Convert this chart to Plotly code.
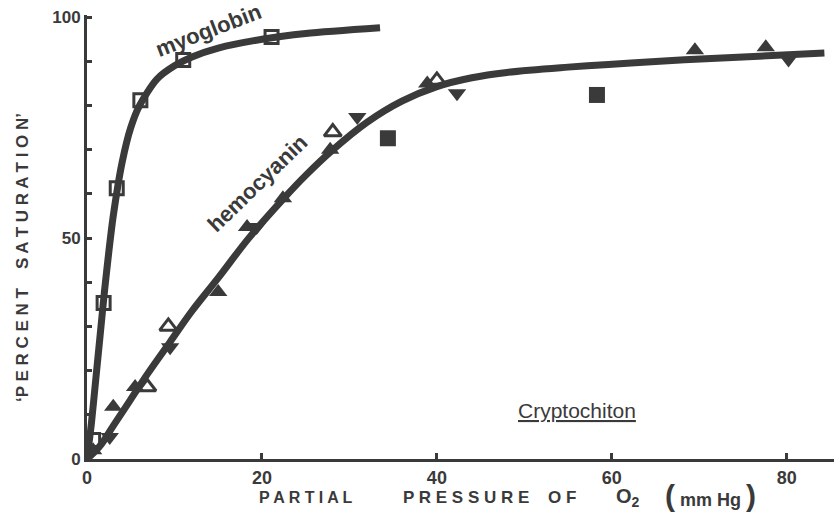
import plotly.graph_objects as go

# ---- data ----
# smooth curves (read points, drawn with spline)
myo_curve_x = [0, 0.5, 1, 1.5, 2, 2.5, 3, 4, 5, 6, 8, 10, 12, 15, 20, 25, 33.5]
myo_curve_y = [0, 8, 18, 28, 38, 47, 55, 67, 75, 80, 86, 89, 91, 93, 95, 96.3, 97.6]

hemo_curve_x = [0, 1.5, 3, 5, 7, 9.5, 12, 15, 18.5, 22.5, 25, 28, 32, 36, 40, 44, 48, 55, 65, 75, 84.3]
hemo_curve_y = [0, 3, 7.5, 13.5, 19.5, 26.5, 33.5, 41, 50, 59, 64.2, 69.8, 76.2, 81, 84.3, 86.3, 87.5, 88.7, 90, 91, 91.9]

# myoglobin: open squares
myo_x = [0.7, 1.9, 3.4, 6.1, 11.0, 21.1]
myo_y = [4.3, 35.3, 61.3, 81.2, 90.3, 95.5]

# hemocyanin: filled up triangles
hup_x = [0.7, 3.0, 5.5, 15.0, 18.3, 22.4, 27.8, 38.9, 69.5, 77.6]
hup_y = [2.0, 11.8, 16.3, 37.8, 52.5, 59.0, 70.0, 85.0, 92.5, 93.2]
# hemocyanin: filled down triangles
hdn_x = [2.6, 9.5, 19.4, 30.9, 42.3, 80.2]
hdn_y = [5.0, 25.3, 52.5, 77.4, 82.8, 90.4]
# hemocyanin: open up triangles
hop_x = [6.9, 9.3, 28.1, 40.0]
hop_y = [16.3, 30.0, 74.0, 85.7]
# filled squares
sq_x = [34.4, 58.3]
sq_y = [72.6, 82.4]

x_ticks = [0, 20, 40, 60, 80]
x_ticktext = ["0", "20", "40", "60", "80"]
y_ticks = [0, 10, 20, 30, 40, 50, 60, 70, 80, 90, 100]
y_ticktext = ["0", "", "", "", "", "50", "", "", "", "", "100"]

INK = "#3a3a3a"
FONT = "Liberation Sans, Arial, sans-serif"

fig = go.Figure()
fig.add_trace(go.Scatter(x=myo_curve_x, y=myo_curve_y, mode="lines",
                         line=dict(color=INK, width=7, shape="spline", smoothing=0.8),
                         hoverinfo="skip"))
fig.add_trace(go.Scatter(x=hemo_curve_x, y=hemo_curve_y, mode="lines",
                         line=dict(color=INK, width=7, shape="spline", smoothing=1.0),
                         hoverinfo="skip"))
fig.add_trace(go.Scatter(x=myo_x, y=myo_y, mode="markers", cliponaxis=False,
                         marker=dict(symbol="square-open", size=13, color=INK,
                                     line=dict(width=3, color=INK))))
fig.add_trace(go.Scatter(x=hup_x, y=hup_y, mode="markers", cliponaxis=False,
                         marker=dict(symbol="triangle-up", size=16, color=INK)))
fig.add_trace(go.Scatter(x=hdn_x, y=hdn_y, mode="markers", cliponaxis=False,
                         marker=dict(symbol="triangle-down", size=16, color=INK)))
fig.add_trace(go.Scatter(x=hop_x, y=hop_y, mode="markers", cliponaxis=False,
                         marker=dict(symbol="triangle-up-open", size=15, color=INK,
                                     line=dict(width=3, color=INK))))
fig.add_trace(go.Scatter(x=sq_x, y=sq_y, mode="markers", cliponaxis=False,
                         marker=dict(symbol="square", size=16, color=INK)))

fig.update_layout(
    width=834, height=523,
    margin=dict(l=87, r=0, t=15, b=64),
    paper_bgcolor="white", plot_bgcolor="white",
    showlegend=False,
    font=dict(family=FONT, color=INK),
    xaxis=dict(range=[0, 85.4], showgrid=False, zeroline=False,
               showline=True, linecolor=INK, linewidth=3,
               ticks="inside", ticklen=6, tickwidth=3, tickcolor=INK,
               tickvals=x_ticks, ticktext=x_ticktext,
               tickfont=dict(size=18, family=FONT, color=INK, weight="bold")),
    yaxis=dict(range=[0, 100.5], showgrid=False, zeroline=False,
               showline=True, linecolor=INK, linewidth=3,
               ticks="inside", ticklen=5, tickwidth=3, tickcolor=INK,
               tickvals=y_ticks, ticktext=y_ticktext,
               tickfont=dict(size=17, family=FONT, color=INK, weight="bold")),
)

BIG = "<span style='font-size:30px'>"
ann = [
    dict(text="myoglobin", x=208, y=31, angle=-21, size=22, bold=True),
    dict(text="hemocyanin", x=257, y=183, angle=-44, size=22, bold=True),
    dict(text="<u>Cryptochiton</u>", x=577, y=410, angle=0, size=21, bold=False),
    dict(text="P A R T I A L", x=306, y=497, angle=0, size=16, bold=True),
    dict(text="P R E S S U R E", x=466, y=497, angle=0, size=17, bold=True),
    dict(text="O F", x=562, y=497, angle=0, size=17, bold=True),
    dict(text="O<sub>2</sub>", x=628, y=497, angle=0, size=20, bold=True),
    dict(text=BIG + "(</span> mm Hg " + BIG + ")</span>", x=710, y=495, angle=0, size=18, bold=True),
    dict(text="‘P E R C E N T    S A T U R A T I O N’", x=22, y=258, angle=-90, size=17, bold=True),
]
for a in ann:
    fig.add_annotation(text=a["text"],
                       x=(a["x"] - 87) / (834 - 87), y=(523 - 64 - a["y"]) / (523 - 15 - 64),
                       xref="paper", yref="paper", xanchor="center", yanchor="middle",
                       showarrow=False, textangle=a["angle"],
                       font=dict(size=a["size"], family=FONT, color=INK,
                                 weight="bold" if a["bold"] else "normal"))

fig.write_html("out.html")
